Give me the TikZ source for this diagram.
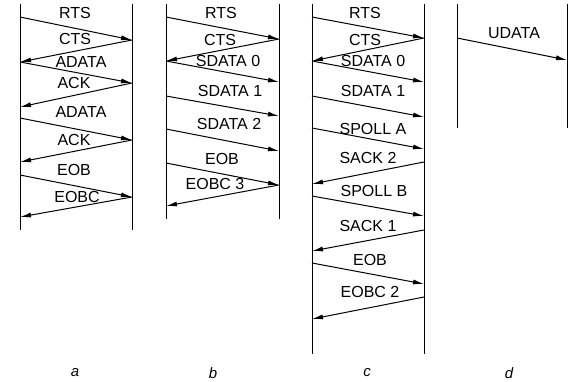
\documentclass[tikz,border=0pt]{standalone}
\usepackage{fontspec}
\setmainfont{Liberation Sans}
\usetikzlibrary{arrows.meta}
\begin{document}
\begin{tikzpicture}[x=1pt,y=-1pt,
  life/.style={line width=1pt},
  msg/.style={line width=1pt,-{Latex[length=11pt,width=5pt]}},
  lbl/.style={inner sep=0pt,font=\fontsize{16}{18}\selectfont},
  captext/.style={inner sep=0pt,font=\fontsize{15}{16}\selectfont\itshape}]
\useasboundingbox (0,0) rectangle (568,381);
% lifelines
\foreach \n/\x/\b in {aL/20/230,aR/132/230,bL/166/219,bR/279/219,cL/312/354,cR/424/354,dL/457/128,dR/567/128}{
  \coordinate (\n t) at (\x,4);
  \coordinate (\n b) at (\x,\b);
  \draw[life] (\n t) -- (\n b);
}
% message end points
\foreach \n/\x/\y in {
  a1/20/17, a2/132/40, a3/20/62, a4/132/83, a5/20/107,
  a6/20/118, a7/132/140, a8/20/162, a9/20/175, a10/132/197, a11/20/217,
  b1/166/17, b2/279/39, b3/166/61, b4/279/82, b5/166/96, b6/279/116,
  b7/166/129, b8/279/151, b9/166/163, b10/279/185, b11/166/206,
  c1/312/17, c2/424/38, c3/312/61, c4/424/82, c5/312/96, c6/424/117,
  c7/312/128, c8/424/149, c9/424/162, c10/312/184, c11/312/196, c12/424/216,
  c13/424/230, c14/312/251, c15/312/263, c16/424/284, c17/424/297, c18/312/319,
  d1/457/38, d2/567/60}{
  \coordinate (\n) at (\x,\y);
}
% panel a
\draw[msg] (a1) -- (a2);
\draw[msg] (a2) -- (a3);
\draw[msg] (a3) -- (a4);
\draw[msg] (a4) -- (a5);
\draw[msg] (a6) -- (a7);
\draw[msg] (a7) -- (a8);
\draw[msg] (a9) -- (a10);
\draw[msg] (a10) -- (a11);
\node[lbl] (la1) at (75,13) {RTS};
\node[lbl] (la2) at (75,39) {CTS};
\node[lbl] (la3) at (81,62) {ADATA};
\node[lbl] (la4) at (74,83) {ACK};
\node[lbl] (la5) at (81,112) {ADATA};
\node[lbl] (la6) at (74,140) {ACK};
\node[lbl] (la7) at (74,170) {EOB};
\node[lbl] (la8) at (77,197) {EOBC};
% panel b
\draw[msg] (b1) -- (b2);
\draw[msg] (b2) -- (b3);
\draw[msg] (b3) -- (b4);
\draw[msg] (b5) -- (b6);
\draw[msg] (b7) -- (b8);
\draw[msg] (b9) -- (b10);
\draw[msg] (b10) -- (b11);
\node[lbl] (lb1) at (221,13) {RTS};
\node[lbl] (lb2) at (220,40) {CTS};
\node[lbl] (lb3) at (228,61) {SDATA 0};
\node[lbl] (lb4) at (230,91) {SDATA 1};
\node[lbl] (lb5) at (229,124) {SDATA 2};
\node[lbl] (lb6) at (222,159) {EOB};
\node[lbl] (lb7) at (215,184) {EOBC 3};
% panel c
\draw[msg] (c1) -- (c2);
\draw[msg] (c2) -- (c3);
\draw[msg] (c3) -- (c4);
\draw[msg] (c5) -- (c6);
\draw[msg] (c7) -- (c8);
\draw[msg] (c9) -- (c10);
\draw[msg] (c11) -- (c12);
\draw[msg] (c13) -- (c14);
\draw[msg] (c15) -- (c16);
\draw[msg] (c17) -- (c18);
\node[lbl] (lc1) at (365,13) {RTS};
\node[lbl] (lc2) at (365,40) {CTS};
\node[lbl] (lc3) at (373,61) {SDATA 0};
\node[lbl] (lc4) at (373,91) {SDATA 1};
\node[lbl] (lc5) at (373,129) {SPOLL A};
\node[lbl] (lc6) at (368,158) {SACK 2};
\node[lbl] (lc7) at (374,191) {SPOLL B};
\node[lbl] (lc8) at (368,226) {SACK 1};
\node[lbl] (lc9) at (370,260) {EOB};
\node[lbl] (lc10) at (370,292) {EOBC 2};
% panel d
\draw[msg] (d1) -- (d2);
\node[lbl] (ld1) at (514,33) {UDATA};
% captions
\node[captext] (ca) at (75,373) {a};
\node[captext] (cb) at (213,373) {b};
\node[captext] (cc) at (367,373) {c};
\node[captext] (cd) at (509,373) {d};
\end{tikzpicture}
\end{document}
